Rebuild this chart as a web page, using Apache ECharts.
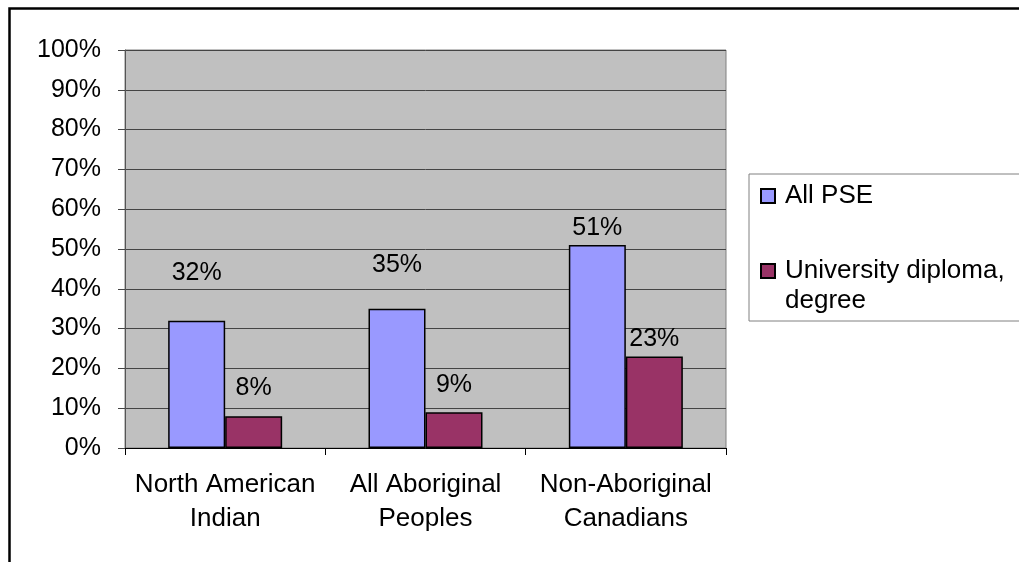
<!DOCTYPE html>
<html>
<head>
<meta charset="utf-8">
<title>Post-secondary attainment</title>
<script src="https://cdn.jsdelivr.net/npm/echarts@6/dist/echarts.min.js"></script>
<style>
  html, body { margin: 0; padding: 0; background: #ffffff; }
  #chart { width: 1019px; height: 562px; }
</style>
</head>
<body>
<div id="chart"></div>
<script>
// Population groups along the x axis
const categories = ['North American\nIndian', 'All Aboriginal\nPeoples', 'Non-Aboriginal\nCanadians'];
// Share (%) with any post-secondary education
const allPse = [32, 35, 51];
// Share (%) with a university diploma or degree
const university = [8, 9, 23];
// Series names shown in the legend
const seriesNames = ['All PSE', 'University diploma, degree'];

// Gap (px) between each bar top and its value label
const pseLabelGap = [35, 31, 4];
const uniLabelGap = [16, 15, 5];

const FONT = '"Liberation Sans", Arial, sans-serif';

function withLabelGap(values, gaps) {
  return values.map((v, i) => ({ value: v, label: { distance: gaps[i] } }));
}

// Legend text: a wrapped name gets a blank leading line so that its first
// line sits level with the colour swatch, the rest hanging below it.
function legendText(name) {
  const parts = name.split(', ');
  if (parts.length < 2) return name;
  return ' \n' + parts[0] + ',\n' + parts.slice(1).join(', ');
}

const chart = echarts.init(document.getElementById('chart'), null, { renderer: 'canvas' });

const valueLabel = {
  show: true,
  position: 'top',
  color: '#000',
  fontFamily: FONT,
  fontSize: 25,
  lineHeight: 25,
  formatter: p => p.value + '%'
};

chart.setOption({
  animation: false,
  backgroundColor: '#ffffff',
  textStyle: { fontFamily: FONT },
  graphic: [{
    type: 'rect',
    shape: { x: 9.5, y: 8.5, width: 1200, height: 700 },
    style: { fill: 'none', stroke: '#000', lineWidth: 2.5 },
    silent: true
  }],
  grid: {
    left: 125, right: 293, top: 50, bottom: 114,
    show: true,
    backgroundColor: '#C0C0C0',
    borderColor: '#808080',
    borderWidth: 1
  },
  legend: {
    orient: 'vertical',
    left: 749,
    top: 174,
    padding: [7, 15, 5, 11],
    itemGap: 15,
    itemWidth: 14,
    itemHeight: 14,
    icon: 'rect',
    borderColor: '#808080',
    borderWidth: 1,
    backgroundColor: '#ffffff',
    selectedMode: false,
    data: seriesNames,
    formatter: legendText,
    textStyle: {
      color: '#000',
      fontFamily: FONT,
      fontSize: 26,
      lineHeight: 30,
      padding: [0, 0, 0, 5]
    }
  },
  xAxis: {
    type: 'category',
    data: categories,
    axisLine: { show: true, lineStyle: { color: '#000', width: 1 } },
    axisTick: { show: true, length: 7, alignWithLabel: false, lineStyle: { color: '#000' } },
    axisLabel: {
      color: '#000',
      fontFamily: FONT,
      fontSize: 26,
      lineHeight: 34,
      margin: 20,
      interval: 0
    },
    splitLine: { show: false }
  },
  yAxis: {
    type: 'value',
    min: 0,
    max: 100,
    interval: 10,
    axisLine: { show: true, lineStyle: { color: '#555', width: 1 } },
    axisTick: { show: true, length: 7, lineStyle: { color: '#444' } },
    axisLabel: {
      color: '#000',
      fontFamily: FONT,
      fontSize: 25,
      margin: 24,
      formatter: '{value}%'
    },
    splitLine: { show: true, lineStyle: { color: '#444', width: 1 } }
  },
  series: [
    {
      name: seriesNames[0],
      type: 'bar',
      data: withLabelGap(allPse, pseLabelGap),
      barWidth: 57,
      barGap: '0%',
      itemStyle: { color: '#9999FF', borderColor: '#000', borderWidth: 1.5 },
      label: valueLabel
    },
    {
      name: seriesNames[1],
      type: 'bar',
      data: withLabelGap(university, uniLabelGap),
      barWidth: 57,
      barGap: '0%',
      itemStyle: { color: '#993366', borderColor: '#000', borderWidth: 1.5 },
      label: valueLabel
    }
  ]
});
</script>
</body>
</html>
